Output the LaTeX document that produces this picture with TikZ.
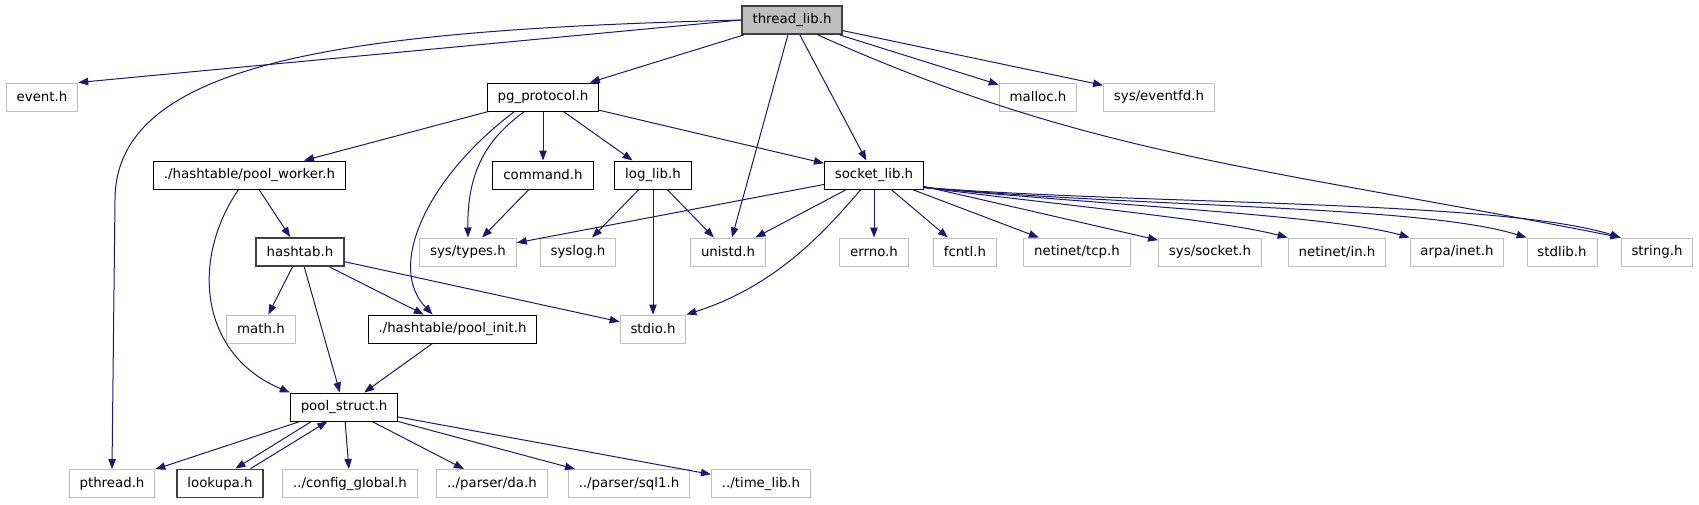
\documentclass[tikz,border=0pt]{standalone}
\usepackage{fontspec}
\setmainfont{DejaVu Sans}
\usetikzlibrary{arrows.meta}
\definecolor{edgeblue}{HTML}{191970}
\definecolor{boxgray}{HTML}{BFBFBF}
\definecolor{darkframe}{HTML}{404040}

\begin{document}
\begin{tikzpicture}[x=0.75pt, y=-0.75pt,
    every node/.style={font=\fontsize{10}{12}\selectfont, inner xsep=7.8pt, inner ysep=0pt, minimum height=21pt, line width=0.75pt},
    docfile/.style={draw=black, fill=white},
    sysfile/.style={draw=boxgray, fill=white},
    markfile/.style={draw=darkframe, line width=1.4pt, fill=white},
    dep/.style={draw=edgeblue, line width=0.75pt, -{Triangle[length=7.5pt,width=5.6pt]}}]
  \useasboundingbox (0,0) rectangle (1699,504);

  \node[markfile, fill=boxgray] (threadlib) at (792,20) {thread\_lib.h};

  \node[sysfile] (event) at (42,97) {event.h};
  \node[docfile] (pgproto) at (543,97) {pg\_protocol.h};
  \node[sysfile] (malloc) at (1038,97) {malloc.h};
  \node[sysfile] (eventfd) at (1159,97) {sys/eventfd.h};

  \node[docfile] (poolworker) at (249.5,175) {./hashtable/pool\_worker.h};
  \node[docfile] (command) at (543,175) {command.h};
  \node[docfile] (loglib) at (653,175) {log\_lib.h};
  \node[docfile] (socketlib) at (874,175) {socket\_lib.h};

  \node[markfile] (hashtab) at (300,252) {hashtab.h};
  \node[sysfile] (systypes) at (468,252) {sys/types.h};
  \node[sysfile] (syslog) at (578,252) {syslog.h};
  \node[sysfile] (unistd) at (728,252) {unistd.h};
  \node[sysfile] (errno) at (874,252) {errno.h};
  \node[sysfile] (fcntl) at (965,252) {fcntl.h};
  \node[sysfile] (tcp) at (1077,252) {netinet/tcp.h};
  \node[sysfile] (syssocket) at (1210,252) {sys/socket.h};
  \node[sysfile] (netin) at (1337,252) {netinet/in.h};
  \node[sysfile] (arpainet) at (1457,252) {arpa/inet.h};
  \node[sysfile] (stdlib) at (1562,252) {stdlib.h};
  \node[sysfile] (string) at (1657,252) {string.h};

  \node[sysfile] (math) at (261,329) {math.h};
  \node[docfile] (poolinit) at (452.5,329) {./hashtable/pool\_init.h};
  \node[sysfile] (stdio) at (653,329) {stdio.h};

  \node[docfile] (poolstruct) at (344,407) {pool\_struct.h};

  \node[sysfile] (pthread) at (112,483.5) {pthread.h};
  \node[markfile] (lookupa) at (220,483.5) {lookupa.h};
  \node[sysfile] (config) at (350,483.5) {../config\_global.h};
  \node[sysfile] (da) at (492,483.5) {../parser/da.h};
  \node[sysfile] (sql1) at (629,483.5) {../parser/sql1.h};
  \node[sysfile] (timelib) at (761,483.5) {../time\_lib.h};

  \draw[dep] (threadlib.west) -- (event.north east);
  \draw[dep] (threadlib.west) .. controls (350,30) and (115,60) .. (115,200) -- (pthread.north);
  \draw[dep] (threadlib) -- (pgproto);
  \draw[dep] (threadlib) -- (unistd);
  \draw[dep] (threadlib) -- (socketlib);
  \draw[dep] (threadlib.-30) .. controls (1091,157) and (1258,166) .. (string.north west);
  \draw[dep] (threadlib) -- (malloc);
  \draw[dep] (threadlib) -- (eventfd);

  \draw[dep] (pgproto) -- (poolworker);
  \draw[dep] (pgproto.-153) .. controls (430,175) and (385,265) .. (poolinit.144);
  \draw[dep] (pgproto.-142) .. controls (488,138) and (467,170) .. (systypes.north);
  \draw[dep] (pgproto) -- (command);
  \draw[dep] (pgproto) -- (loglib);
  \draw[dep] (pgproto) -- (socketlib);

  \draw[dep] (poolworker) -- (hashtab);
  \draw[dep] (poolworker.-127) .. controls (190,260) and (200,355) .. (poolstruct.north west);
  \draw[dep] (command) -- (systypes);
  \draw[dep] (loglib) -- (syslog);
  \draw[dep] (loglib) -- (unistd);
  \draw[dep] (loglib) -- (stdio);

  \draw[dep] (socketlib) -- (systypes);
  \draw[dep] (socketlib) -- (unistd);
  \draw[dep] (socketlib.-132) .. controls (830,225) and (780,285) .. (stdio.north east);
  \draw[dep] (socketlib) -- (errno);
  \draw[dep] (socketlib) -- (fcntl);
  \draw[dep] (socketlib) -- (tcp);
  \draw[dep] (socketlib) -- (syssocket);
  \draw[dep] (socketlib.-14) .. controls (1060,205) and (1220,220) .. (netin.north west);
  \draw[dep] (socketlib.-14) .. controls (1100,205) and (1330,215) .. (arpainet.north west);
  \draw[dep] (socketlib.-14) .. controls (1150,208) and (1420,205) .. (stdlib.north west);
  \draw[dep] (socketlib.-14) .. controls (1150,205) and (1500,200) .. (string.north west);

  \draw[dep] (hashtab) -- (math);
  \draw[dep] (hashtab) -- (poolstruct);
  \draw[dep] (hashtab) -- (poolinit);
  \draw[dep] (hashtab) -- (stdio);
  \draw[dep] (poolinit) -- (poolstruct);

  \draw[dep] (poolstruct) -- (pthread);
  \draw[dep] (poolstruct.-156) -- (lookupa.44);
  \draw[dep] (lookupa.26) -- (poolstruct.-139);
  \draw[dep] (poolstruct) -- (config);
  \draw[dep] (poolstruct) -- (da);
  \draw[dep] (poolstruct) -- (sql1);
  \draw[dep] (poolstruct) -- (timelib);
\end{tikzpicture}
\end{document}
